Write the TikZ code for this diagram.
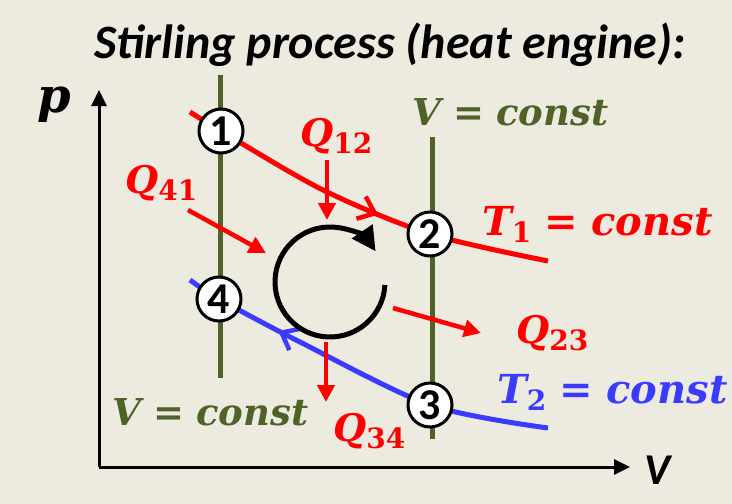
\documentclass[tikz,border=0pt]{standalone}
\usepackage{fontspec}
\setmainfont{Carlito}
\newfontfamily\mserif{DejaVu Serif}
\usetikzlibrary{arrows.meta,decorations.markings}

\definecolor{bgbeige}{HTML}{EDEBE0}
\definecolor{isochor}{HTML}{4F6228}
\definecolor{coldblue}{HTML}{3B3BFF}

% symbol with subscript, e.g. Q_12
\newcommand{\symsub}[2]{{\mserif\bfseries\itshape #1}\raisebox{-0.4ex}{\fontsize{28}{28}\selectfont\mserif\bfseries #2}}
\newcommand{\symtxt}[1]{{\mserif\bfseries\itshape #1}}
\newcommand{\eqsgn}{\hspace{0.33em}{\mserif\bfseries =}\hspace{0.33em}}

\tikzset{
  state/.style={circle, draw=black, line width=3pt, fill=white, inner sep=0pt,
    minimum size=44pt, font=\fontsize{44}{44}\selectfont\bfseries},
  heat/.style={red, line width=4.5pt, -{Triangle[length=17pt,width=17pt]}},
  label/.style={inner sep=0pt, font=\fontsize{40}{40}\selectfont},
  qlabel/.style={label, red, anchor=base west, font=\fontsize{38}{38}\selectfont},
  isoline/.style={isochor, line width=5pt},
  midbarb/.style={decoration={markings,
    mark=at position #1 with {\draw[line width=4.5pt] (-15pt,-12pt) -- (0pt,0pt) -- (-15pt,12pt);}},
    postaction={decorate}}
}

\begin{document}
\begin{tikzpicture}[x=1pt,y=-1pt]
  \fill[bgbeige] (0,0) rectangle (732,504);
  \useasboundingbox (0,0) rectangle (732,504);

  % title
  \node[inner sep=0pt, anchor=base, font=\fontsize{48}{48}\selectfont\bfseries\itshape]
    (title) at (390,58) {Stirling process (heat engine):};

  % axes
  \coordinate (origin) at (99,467);
  \coordinate (ptop) at (99,90);
  \coordinate (vend) at (630,467);
  \draw[line width=3pt, -{Triangle[length=16pt,width=15pt]}] (origin) -- (ptop);
  \draw[line width=3pt, -{Triangle[length=16pt,width=15pt]}] (origin) -- (vend);
  \node[anchor=base west, inner sep=0pt, font=\fontsize{48}{48}\selectfont\mserif\bfseries\itshape]
    (plabel) at (37,112) {p};
  \node[anchor=base west, inner sep=0pt, font=\fontsize{44}{44}\selectfont\bfseries\itshape]
    (vlabel) at (644,484) {V};

  % states
  \coordinate (p1) at (221,131);
  \coordinate (p2) at (430,234);
  \coordinate (p3) at (430,405);
  \coordinate (p4) at (219,299);

  % isochores
  \coordinate (v1top) at (220,75);
  \coordinate (v1bot) at (220,378);
  \coordinate (v2top) at (432,137);
  \coordinate (v2bot) at (432,439);
  \draw[isoline] (v1top) -- (v1bot);
  \draw[isoline] (v2top) -- (v2bot);

  % isotherms
  \coordinate (t1a) at (190,112);
  \coordinate (t1m) at (323,190);
  \coordinate (t1b) at (548,261);
  \coordinate (t2a) at (190,280);
  \coordinate (t2m) at (300,342);
  \coordinate (t2b) at (548,428);
  \draw[red, line width=5pt, midbarb=0.54]
    plot[smooth] coordinates {(t1a) (p1) (t1m) (p2) (t1b)};
  \draw[coldblue, line width=5pt, midbarb=0.73]
    plot[smooth] coordinates {(t2b) (p3) (t2m) (p4) (t2a)};

  \node[state] (n1) at (p1) {1};
  \node[state] (n2) at (p2) {2};
  \node[state] (n3) at (p3) {3};
  \node[state] (n4) at (p4) {4};

  % cycle direction
  \coordinate (cyc) at (330,282);
  \draw[line width=5pt, -{Triangle[length=24pt,width=24pt]}]
    (cyc) ++(3:55) arc (3:326:55);

  % heat flows
  \coordinate (q12a) at (327,160);
  \coordinate (q12b) at (327,220);
  \coordinate (q41a) at (188,210);
  \coordinate (q41b) at (266,253);
  \coordinate (q23a) at (393,308);
  \coordinate (q23b) at (481,333);
  \coordinate (q34a) at (326,342);
  \coordinate (q34b) at (326,402);
  \draw[heat] (q12a) -- (q12b);
  \draw[heat] (q41a) -- (q41b);
  \draw[heat] (q23a) -- (q23b);
  \draw[heat] (q34a) -- (q34b);

  % labels
  \node[qlabel] (lq12) at (300,146) {\symsub{Q}{12}};
  \node[qlabel] (lq41) at (125,193) {\symsub{Q}{41}};
  \node[qlabel] (lq23) at (516,343) {\symsub{Q}{23}};
  \node[qlabel] (lq34) at (333,441) {\symsub{Q}{34}};
  \node[label, red, anchor=base west] (lt1) at (482,235) {\symsub{T}{1}\eqsgn\symtxt{const}};
  \node[label, coldblue, anchor=base west] (lt2) at (497,403) {\symsub{T}{2}\eqsgn\symtxt{const}};
  \node[label, isochor, anchor=base west, font=\fontsize{37}{37}\selectfont] (lv2) at (412,125) {\symtxt{V}\eqsgn\symtxt{const}};
  \node[label, isochor, anchor=base west, font=\fontsize{37}{37}\selectfont] (lv1) at (112,425) {\symtxt{V}\eqsgn\symtxt{const}};
\end{tikzpicture}
\end{document}
